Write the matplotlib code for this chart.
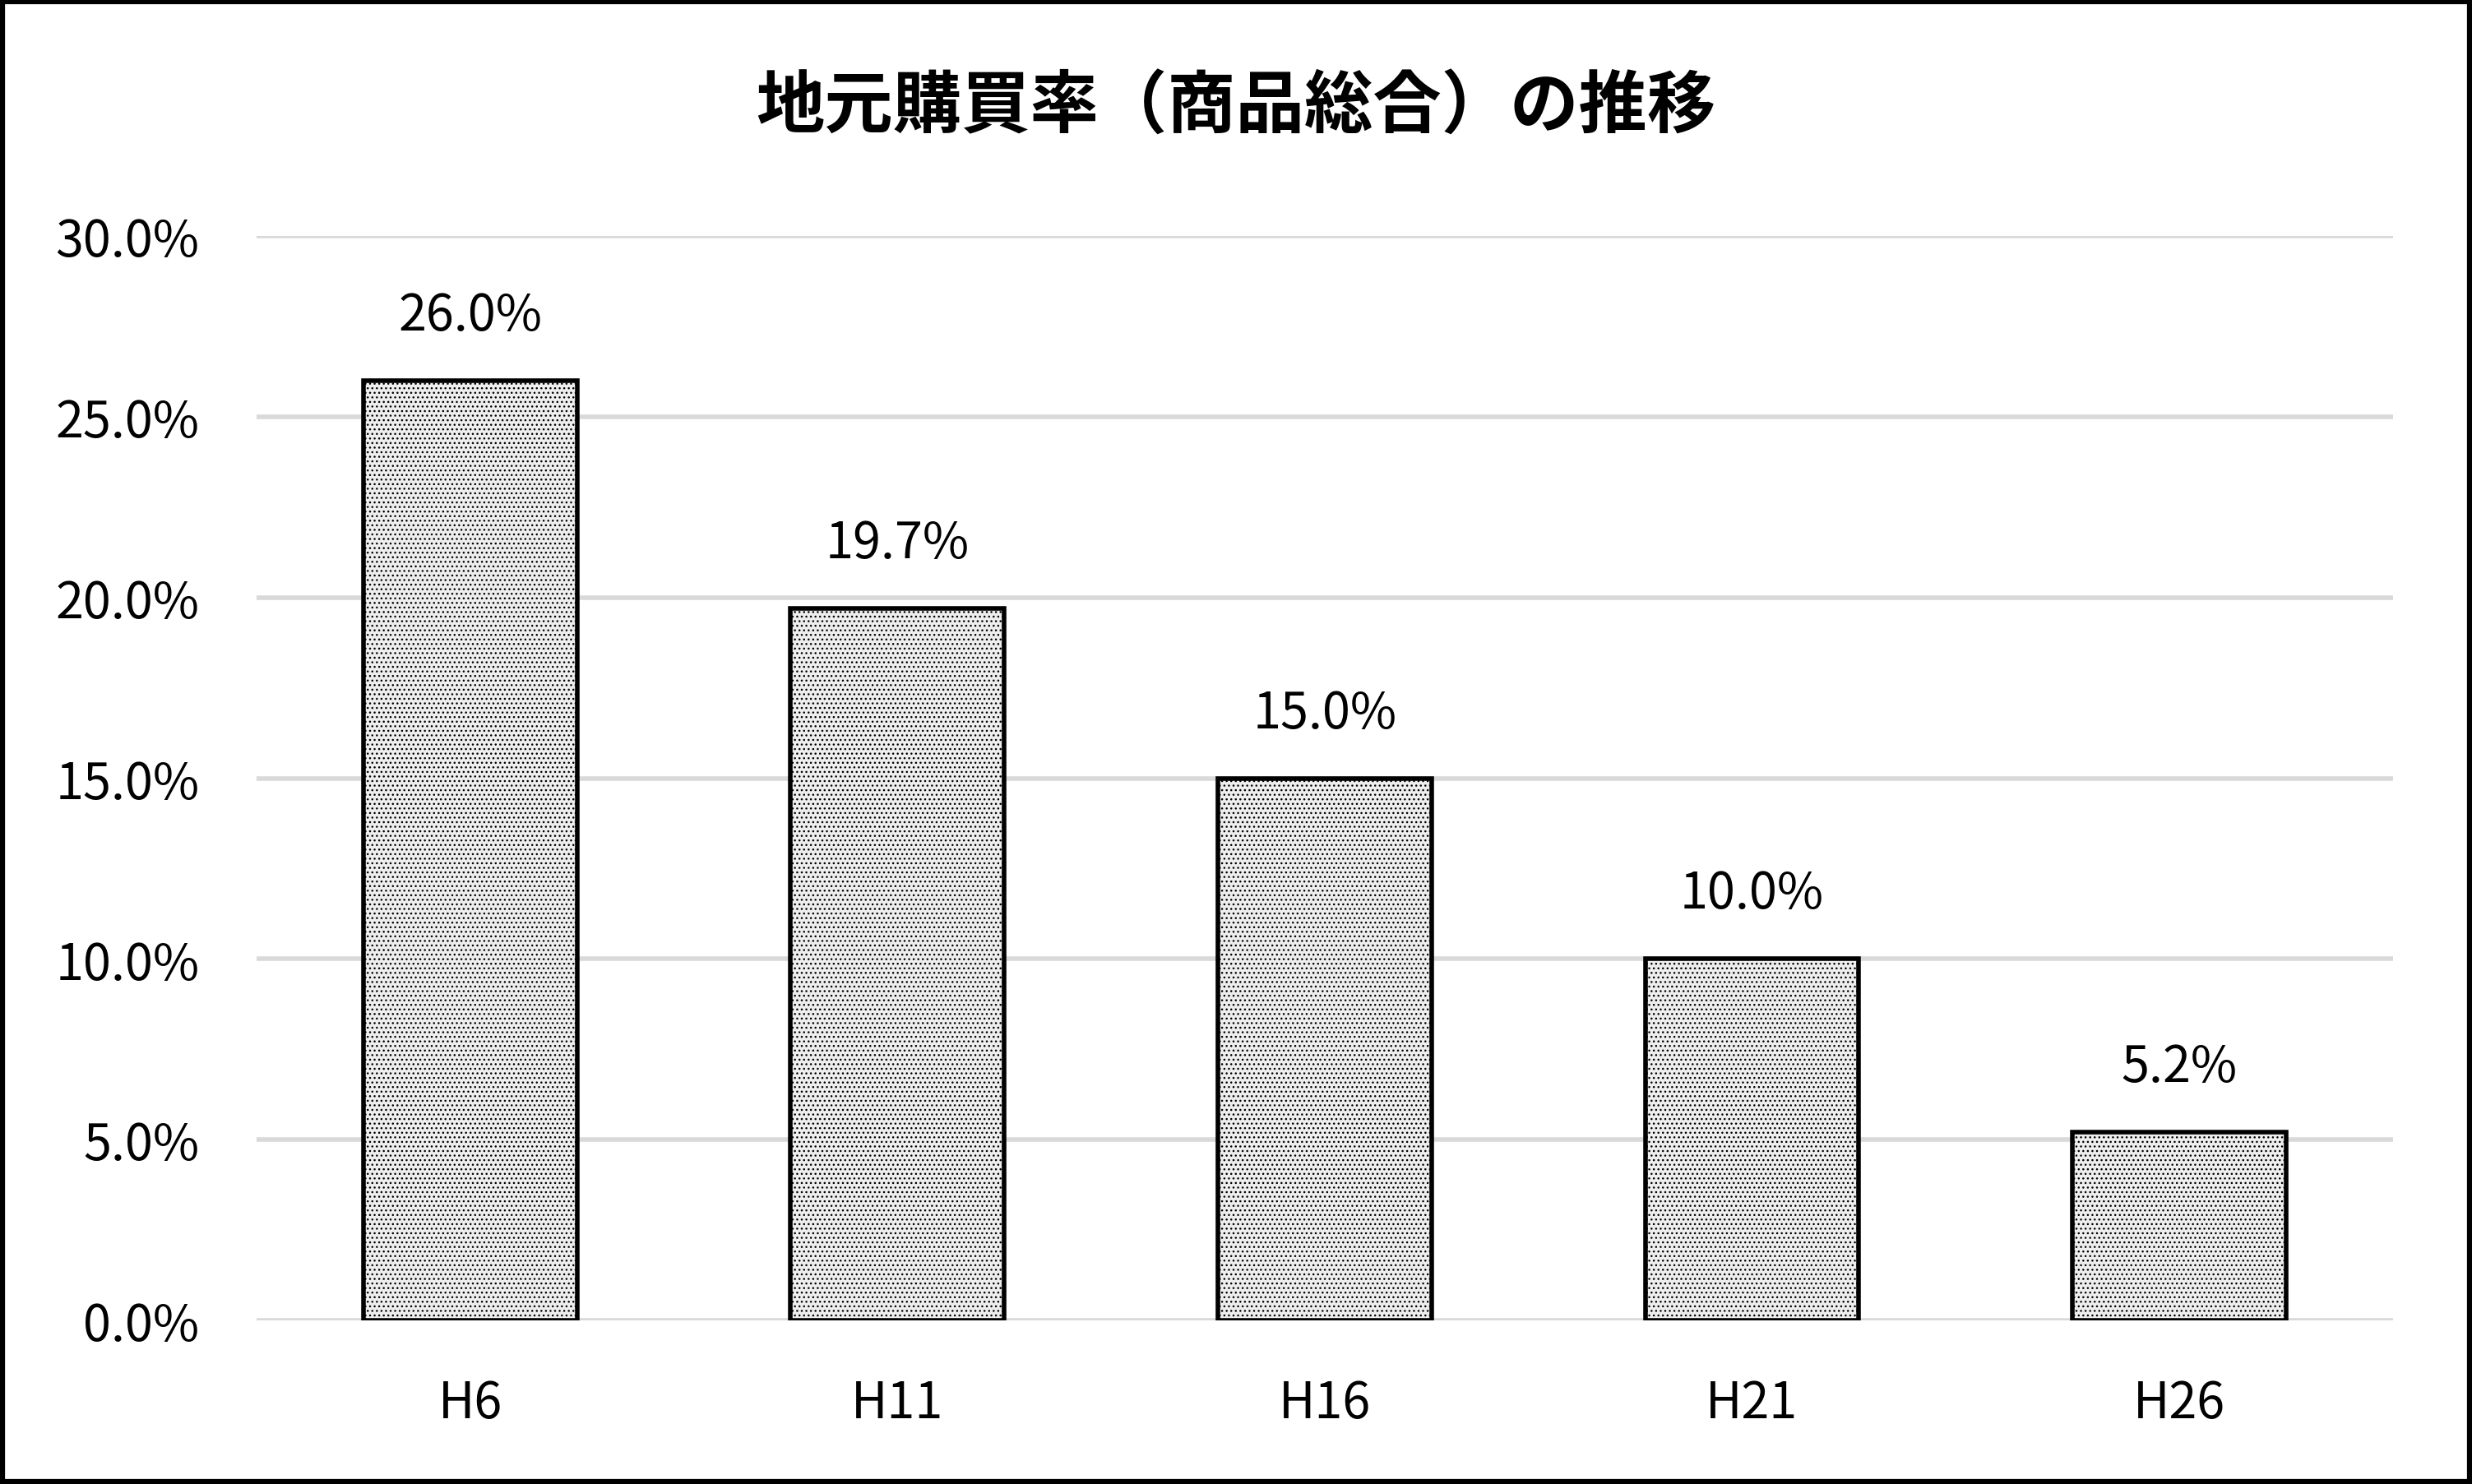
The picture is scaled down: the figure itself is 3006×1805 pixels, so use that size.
import matplotlib
matplotlib.use("Agg")
import matplotlib.pyplot as plt
from matplotlib.patches import Rectangle
from matplotlib.ticker import FuncFormatter, MultipleLocator

plt.rcParams['font.family'] = ['Noto Sans CJK JP', 'DejaVu Sans']
plt.rcParams['hatch.linewidth'] = 1.0
plt.rcParams['hatch.color'] = '#8a8a8a'

# data
categories = ['H6', 'H11', 'H16', 'H21', 'H26']
rates = [0.260, 0.197, 0.150, 0.100, 0.052]
title = '地元購買率（商品総合）の推移'

fig = plt.figure(figsize=(30.06, 18.06), dpi=100)
ax = fig.add_axes([0.1038, 0.1102, 0.8642, 0.7303])

# grid lines behind bars
ax.set_axisbelow(True)
ax.yaxis.grid(True, color='#d9d9d9', linewidth=4)
ax.xaxis.grid(False)

x = range(len(categories))
bars = ax.bar(x, rates, width=0.5, facecolor='#eeeeee', edgecolor='black',
              linewidth=4, hatch='...', zorder=3)

for xi, v in zip(x, rates):
    ax.annotate(f'{v*100:.1f}%', xy=(xi, v), xytext=(0, 57), textcoords='offset points',
                ha='center', va='center', fontsize=44)

ax.set_xlim(-0.5, len(categories) - 0.5)
ax.set_ylim(0, 0.30)
ax.yaxis.set_major_locator(MultipleLocator(0.05))
ax.yaxis.set_major_formatter(FuncFormatter(lambda v, p: f'{v*100:.1f}%'))
ax.set_xticks(list(x))
ax.set_xticklabels(categories)
ax.tick_params(axis='both', length=0, labelsize=44)
ax.tick_params(axis='x', pad=50)
ax.tick_params(axis='y', pad=50)
for s in ax.spines.values():
    s.set_visible(False)

fig.text(0.5, 0.928, title, ha='center', va='center', fontsize=60, fontweight='bold')

# outer frame
fig.patches.append(Rectangle((0.001, 0.0015), 0.998, 0.997, transform=fig.transFigure,
                             fill=False, edgecolor='black', linewidth=4.5))

fig.savefig('out.png', dpi=100)
